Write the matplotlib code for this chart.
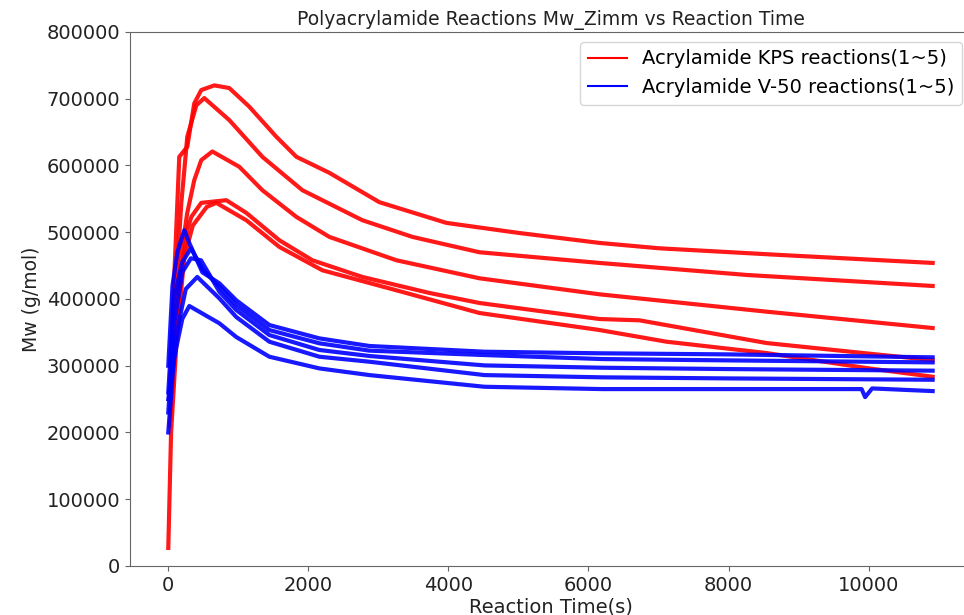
import matplotlib.pyplot as plt
import numpy as np

# DATOS
# ------------------------
# Reacciones KPS (rojo)
kps_t = [
    [20, 80, 157, 271, 371, 471, 657, 871, 1157, 1543, 1829, 2300, 3014, 3971, 5000, 6157, 7000, 8729, 10914],
    [30, 100, 186, 229, 271, 400, 514, 871, 1343, 1914, 2771, 3486, 4443, 6157, 8257, 10914],
    [30, 120, 200, 271, 371, 471, 629, 1014, 1343, 1829, 2300, 3257, 4443, 6157, 8543, 10914],
    [20, 100, 185, 271, 329, 471, 829, 1114, 1586, 2057, 2771, 3729, 4443, 6157, 6729, 8543, 10200, 10914],
    [0, 40, 120, 229, 350, 550, 686, 1114, 1586, 2200, 3257, 4443, 6157, 7114, 8543, 9971, 10914],
]
kps_mw = [
    [260000, 420000, 613000, 628000, 693000, 713000, 720000, 716000, 688000, 643000, 613000, 589000, 545000, 514000, 499000, 484000, 476000, 466000, 454000],
    [280000, 400000, 544000, 593000, 643000, 690000, 701000, 668000, 613000, 563000, 518000, 493000, 470000, 454000, 436000, 419500],
    [250000, 380000, 478000, 529000, 578000, 608000, 621000, 598000, 563000, 523000, 493000, 458000, 431000, 407000, 381000, 356500],
    [210000, 330000, 440000, 503000, 523000, 544000, 548000, 529000, 488000, 458000, 433000, 409000, 394000, 370000, 368000, 334000, 316000, 308500],
    [27000, 200000, 340000, 463000, 510000, 538000, 544000, 518000, 478000, 443000, 413000, 379000, 353500, 336000, 319000, 296500, 283500],
]

# Reacciones V-50 (azul)
v50_t = [
    [0, 60, 130, 229, 300, 486, 729, 971, 1443, 2157, 2871, 4514, 6200, 8000, 10914],
    [0, 80, 200, 324, 486, 729, 971, 1443, 2157, 2871, 4514, 6200, 8000, 10914],
    [0, 80, 200, 324, 467, 729, 971, 1443, 2157, 2871, 4514, 6200, 8000, 10914],
    [0, 100, 250, 414, 729, 971, 1443, 2157, 2871, 4514, 6200, 8000, 10914],
    [0, 100, 200, 300, 729, 971, 1443, 2157, 2871, 4514, 6200, 8000, 9900, 9950, 10050, 10914],
]
v50_mw = [
    [300000, 420000, 470000, 503000, 484000, 440000, 423500, 398000, 361000, 341000, 329600, 321000, 318600, 317000, 312600],
    [260000, 400000, 455000, 476000, 445000, 418400, 391000, 353500, 333600, 322600, 316000, 310000, 308000, 305000],
    [230000, 360000, 440000, 461000, 458000, 411000, 383500, 346000, 323600, 314600, 300500, 297000, 295000, 292600],
    [200000, 340000, 415000, 433000, 401000, 373000, 336000, 313500, 306000, 286000, 282600, 281000, 279000],
    [250000, 320000, 370000, 389500, 363600, 343000, 313500, 296000, 286000, 268500, 265000, 265000, 265000, 253000, 266000, 262000],
]

etiqueta_kps = 'Acrylamide KPS reactions(1~5)'
etiqueta_v50 = 'Acrylamide V-50 reactions(1~5)'

fig = plt.figure(figsize=(9.64, 6.15), dpi=100)
ax = fig.add_axes([0.1349, 0.0797, 0.8734, 0.8683])

for i, (t, mw) in enumerate(zip(kps_t, kps_mw)):
    ax.plot(t, mw, color='red', lw=3, alpha=0.9,
            label=etiqueta_kps if i == 0 else None)

for i, (t, mw) in enumerate(zip(v50_t, v50_mw)):
    ax.plot(t, mw, color='blue', lw=3, alpha=0.9,
            label=etiqueta_v50 if i == 0 else None)

ax.set_xlim(-546, 11476)
ax.set_ylim(0, 800000)
ax.set_xticks([0, 2000, 4000, 6000, 8000, 10000])
ax.set_yticks(np.arange(0, 800001, 100000))

for s in ax.spines.values():
    s.set_color('#666666')
ax.tick_params(colors='#666666', labelcolor='#222222', labelsize=14)

ax.set_title('Polyacrylamide Reactions Mw_Zimm vs Reaction Time', fontsize=13.5, color='#222222', pad=5)
ax.set_xlabel('Reaction Time(s)', fontsize=14, color='#222222', labelpad=2)
ax.set_ylabel('Mw (g/mol)', fontsize=13.5, color='#222222')

leg = ax.legend(loc='upper right', fontsize=14)
for h in leg.get_lines():
    h.set_linewidth(1.5)
    h.set_alpha(1)

fig.savefig('out.png', dpi=100)
